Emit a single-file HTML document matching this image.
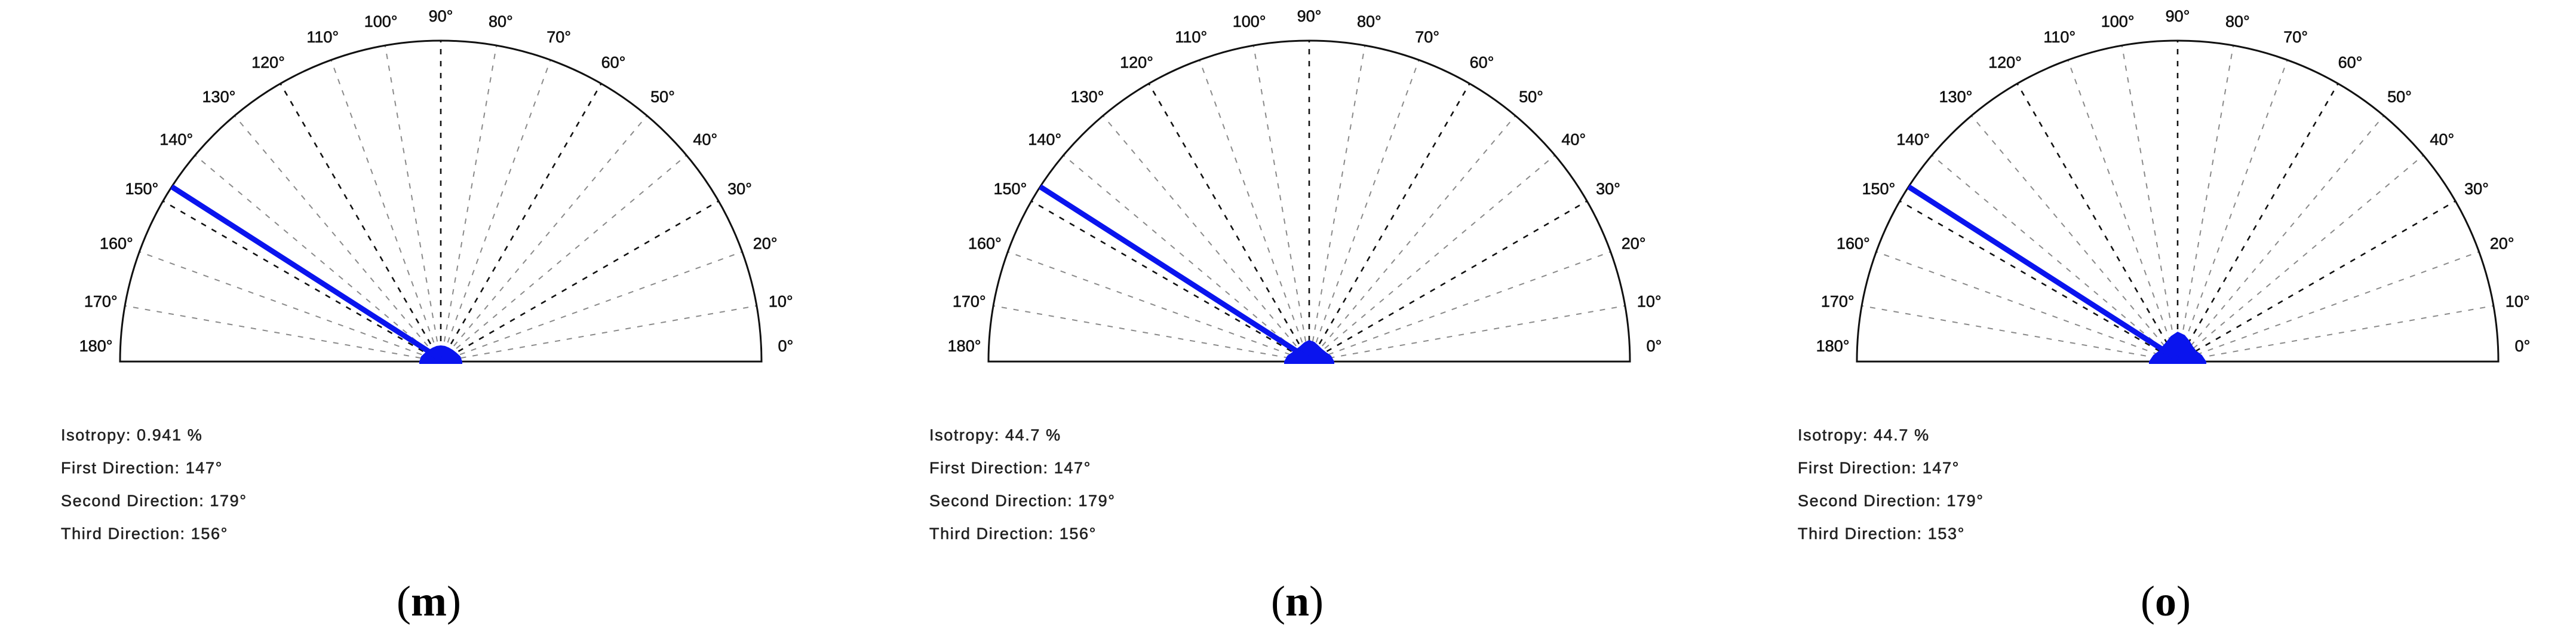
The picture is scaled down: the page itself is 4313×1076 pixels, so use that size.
<!DOCTYPE html>
<html><head><meta charset="utf-8"><style>
html,body{margin:0;padding:0;background:#fff;}
svg{display:block;}
</style></head><body>
<svg id="fig" width="4313" height="1076" viewBox="0 0 4313 1076" xmlns="http://www.w3.org/2000/svg"></svg>
<script>
const panelLabels = ["(m)", "(n)", "(o)"];
const isotropyValues = ["0.941", "44.7", "44.7"];
const firstDirections = [147, 147, 147];
const secondDirections = [179, 179, 179];
const thirdDirections = [156, 156, 153];
const tickAngles = [0,10,20,30,40,50,60,70,80,90,100,110,120,130,140,150,160,170,180];
const blobAngles = [0,15,30,45,60,75,90,105,120,135,150,165,180];
const blobM = [36,34,30,28,27,27,27,27,27,28,30,34,36];
const blobN = [42,38,32,30,31,34,36,33,30,30,32,38,42];
const blobO = [48,42,36,36,40,46,50,44,38,36,36,42,48];
const blobs = [blobM, blobN, blobO];

const centersX = [738, 2192, 3646];
const cy = 605, R = 537;
const NS = "http://www.w3.org/2000/svg";
const svg = document.getElementById("fig");
function el(tag, attrs, parent){const e=document.createElementNS(NS,tag);for(const k in attrs)e.setAttribute(k,attrs[k]);(parent||svg).appendChild(e);return e;}
function px(cx,a,r){return cx + r*Math.cos(a*Math.PI/180);}
function py(a,r){return cy - r*Math.sin(a*Math.PI/180);}

panelLabels.forEach((lab,i)=>{
  const cx = centersX[i];
  const g = el("g",{});
  
  
  tickAngles.forEach(a=>{
    if(a===0||a===180) return;
    const major = a%30===0;
    const s = el("line",{x1:px(cx,a,14),y1:py(a,14),x2:px(cx,a,R),y2:py(a,R),
      stroke: major?"#111":"#8a8a8a","stroke-width":major?2.6:2,"stroke-dasharray":"9 11"},g);
    
    
  });
  const arc = el("path",{d:`M ${cx-R} ${cy} A ${R} ${R} 0 0 1 ${cx+R} ${cy} Z`,fill:"none",stroke:"#111","stroke-width":3},g);
  
  
  tickAngles.forEach(a=>{
    let ang=a, r=578;
    if(a===0) ang=2.6; if(a===180) ang=177.4;
    const t = el("text",{x:px(cx,ang,r),y:py(ang,r),"text-anchor":"middle","dominant-baseline":"central",
      "font-family":"Liberation Sans, sans-serif","font-size":27,fill:"#111",stroke:"#111","stroke-width":0.6},g);
    t.textContent = a+"°";
    
    
  });
  const b = blobs[i];
  let pts = blobAngles.map((a,k)=>px(cx,a,b[k]).toFixed(1)+","+py(a,b[k]).toFixed(1)).join(" ");
  pts += " "+px(cx,180,b[b.length-1])+","+(cy+4)+" "+px(cx,0,b[0])+","+(cy+4);
  const bl = el("polygon",{points:pts,fill:"#0a14ee"},g);
  
  
  const d = firstDirections[i];
  const ml = el("line",{x1:cx,y1:cy-4,x2:px(cx,d,R),y2:py(d,R),stroke:"#0a14ee","stroke-width":9},g);
  
  
  const lines = ["Isotropy: "+isotropyValues[i]+"  %","First Direction: "+firstDirections[i]+"°",
    "Second Direction: "+secondDirections[i]+"°","Third Direction: "+thirdDirections[i]+"°"];
  const names = ["isotropy-text","first-direction-text","second-direction-text","third-direction-text"];
  lines.forEach((s,k)=>{
    const t = el("text",{x:cx-636,y:737+k*55,"font-family":"Liberation Sans, sans-serif","font-size":27,
      "letter-spacing":"1.6",fill:"#222",stroke:"#222","stroke-width":0.6,"xml:space":"preserve"},g);
    t.textContent = s;
    
    
  });
  const pl = el("text",{x:cx-20,y:1030,"text-anchor":"middle","font-family":"Liberation Serif, serif","font-size":72,fill:"#000"},g);
  pl.innerHTML = "(<tspan font-weight='bold'>"+lab.replace(/[()]/g,'')+"</tspan>)";
  
  
});
</script>
</body></html>
